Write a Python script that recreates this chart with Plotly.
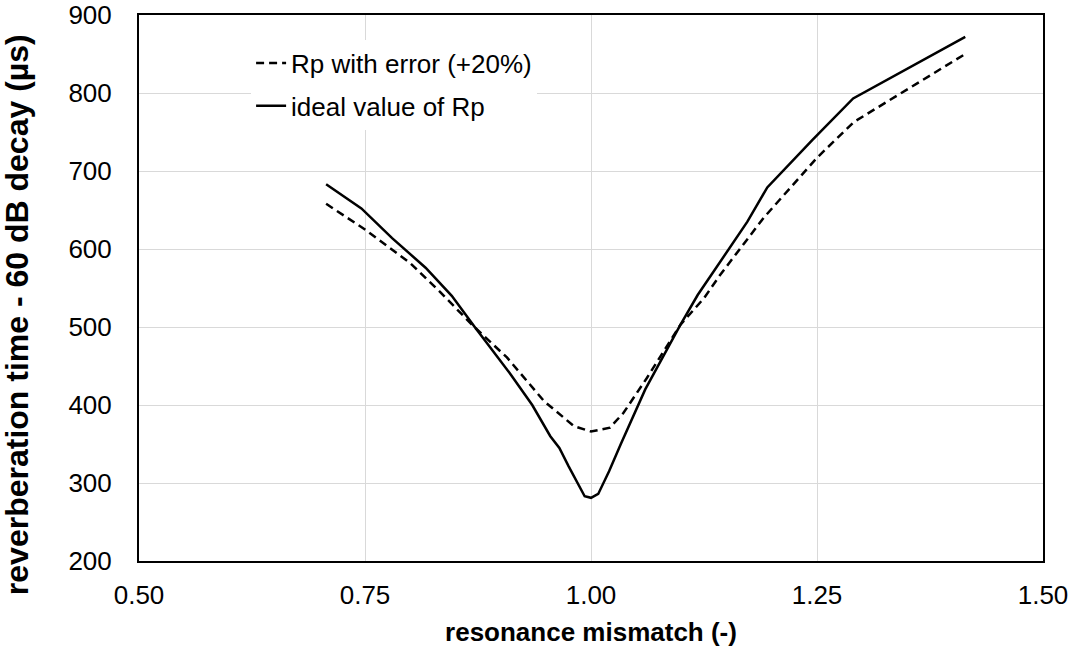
import plotly.graph_objects as go

# ideal value of Rp (solid)
x_ideal = [0.707, 0.746, 0.78, 0.817, 0.846, 0.872, 0.91, 0.935, 0.955, 0.965,
           0.975, 0.985, 0.993, 1.0, 1.008, 1.02, 1.033, 1.06, 1.099, 1.118,
           1.143, 1.173, 1.195, 1.245, 1.29, 1.414]
y_ideal = [683, 652, 614, 576, 540, 499, 441, 400, 360, 345,
           322, 300, 283, 281, 286, 315, 350, 420, 503, 541,
           584, 635, 679, 740, 793, 872]

# Rp with error (+20%) (dashed)
x_err = [0.707, 0.75, 0.8, 0.833, 0.87, 0.907, 0.948, 0.965, 0.981, 1.0,
         1.021, 1.036, 1.062, 1.099, 1.125, 1.143, 1.191, 1.25, 1.291, 1.414]
y_err = [658, 625, 582, 545, 501, 461, 405, 388, 373, 366,
         371, 390, 435, 503, 537, 567, 640, 717, 763, 850]

x_ticks = [0.50, 0.75, 1.00, 1.25, 1.50]
y_ticks = [200, 300, 400, 500, 600, 700, 800, 900]

FONT = "Liberation Sans, Arial, sans-serif"

fig = go.Figure()
fig.add_trace(go.Scatter(
    x=x_err, y=y_err, mode="lines", name="Rp with error (+20%)",
    line=dict(color="black", width=2.5, dash="8px,5px"),
    legendgroup="a",
))
fig.add_trace(go.Scatter(
    x=x_ideal, y=y_ideal, mode="lines", name="ideal value of Rp",
    line=dict(color="black", width=2.5),
    legendgroup="b",
))

fig.update_layout(
    width=1075, height=654,
    margin=dict(l=139, r=32, t=15, b=93, autoexpand=False),
    paper_bgcolor="white", plot_bgcolor="white",
    font=dict(family=FONT, size=26, color="black"),
    showlegend=True,
    legend=dict(
        x=0.124, y=0.955, xanchor="left", yanchor="top",
        bgcolor="white", borderwidth=0,
        font=dict(family=FONT, size=26, color="black"),
        traceorder="grouped", tracegroupgap=6,
    ),
    xaxis=dict(
        range=[0.5, 1.5], tickvals=x_ticks,
        ticktext=[f"{v:.2f}" for v in x_ticks],
        showgrid=True, gridcolor="#d9d9d9", gridwidth=1,
        showline=True, linecolor="black", linewidth=2, mirror=True,
        ticks="", ticklabelstandoff=10, zeroline=False,
        ticklabeloverflow="allow", automargin=False,
        title=dict(text="<b>resonance mismatch (-)</b>",
                   font=dict(family=FONT, size=26), standoff=14),
    ),
    yaxis=dict(
        range=[200, 900], tickvals=y_ticks,
        showgrid=True, gridcolor="#d9d9d9", gridwidth=1,
        showline=True, linecolor="black", linewidth=2, mirror=True,
        ticks="", ticklabelstandoff=20, zeroline=False,
        ticklabeloverflow="allow", automargin=False,
    ),
    annotations=[dict(
        text="<b>reverberation time - 60 dB decay (µs)</b>",
        xref="paper", yref="paper", x=-0.135, y=0.452,
        xanchor="center", yanchor="middle", textangle=-90,
        showarrow=False, font=dict(family=FONT, size=32, color="black"),
    )],
)

fig.write_html("out.html")
